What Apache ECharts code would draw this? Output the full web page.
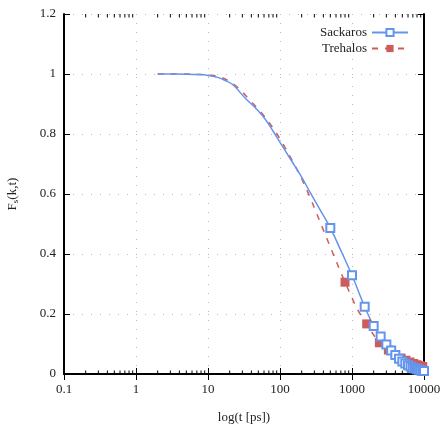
<!DOCTYPE html>
<html lang="en">
<head>
    <meta charset="UTF-8">
    <title>Fs(k,t)</title>
    <script src="https://cdn.jsdelivr.net/npm/echarts@6/dist/echarts.min.js"></script>
    <style>
        html, body { margin: 0; padding: 0; background: #fff; }
        #main { width: 441px; height: 425px; }
    </style>
</head>
<body>
    <div id="main"></div>
    <script>
        // Sackaros: smooth part + markers every 500 ps
        var sacT = [2, 5, 8, 10, 14, 17, 22, 33, 45, 62, 80, 100, 145, 200, 261, 359,
            500, 681, 1000, 1500, 2000, 2500, 3000, 3500, 4000, 4500, 5000,
            5500, 6000, 6500, 7000, 7500, 8000, 8500, 9000, 9500, 10000];
        var sacF = [1.0, 0.9995, 0.998, 0.995, 0.988, 0.979, 0.965, 0.919, 0.888, 0.85, 0.81, 0.772, 0.71, 0.656, 0.606, 0.548,
            0.487, 0.418, 0.329, 0.224, 0.160, 0.125, 0.098, 0.078, 0.063, 0.051, 0.042,
            0.035, 0.029, 0.025, 0.021, 0.018, 0.016, 0.014, 0.012, 0.011, 0.010];
        var sacMarkT = [500, 1000, 1500, 2000, 2500, 3000, 3500, 4000, 4500, 5000,
            5500, 6000, 6500, 7000, 7500, 8000, 8500, 9000, 9500, 10000];

        // Trehalos: markers every 800 ps
        var treT = [2, 5, 8, 10, 15, 25, 38, 56, 81, 111, 153, 200, 262, 323, 410, 520, 690,
            800, 1000, 1200, 1600, 2400, 3200, 4000, 4800, 5600, 6400, 7200, 8000, 8800, 9600, 10000];
        var treF = [1.0, 1.0, 0.998, 0.997, 0.99, 0.958, 0.913, 0.869, 0.818, 0.765, 0.705, 0.651, 0.588, 0.535, 0.474, 0.413, 0.342,
            0.306, 0.254, 0.214, 0.167, 0.104, 0.080, 0.064, 0.053, 0.046, 0.040, 0.035, 0.031, 0.028, 0.025, 0.024];
        var treMarkT = [800, 1600, 2400, 3200, 4000, 4800, 5600, 6400, 7200, 8000, 8800, 9600];

        // gnuplot-style minor ticks on the log axis
        var minorT = [];
        [0.1, 1, 10, 100, 1000].forEach(function (d) {
            for (var k = 2; k <= 9; k++) minorT.push(+(d * k).toPrecision(3));
        });

        var serif = '"Liberation Serif", "DejaVu Serif", serif';

        function buildData(ts, fs, marks) {
            return ts.map(function (t, i) {
                return { value: [t, fs[i]], symbol: marks.indexOf(t) >= 0 ? undefined : 'none' };
            });
        }

        var myChart = echarts.init(document.getElementById('main'));

        var option = {
            animation: false,
            grid: { left: 64, right: 17, top: 14, bottom: 51, outerBoundsMode: 'none', containLabel: false },
            legend: {
                orient: 'vertical',
                right: 27,
                top: 21,
                align: 'right',
                itemWidth: 36,
                itemHeight: 9,
                itemGap: 3,
                textStyle: { fontFamily: serif, fontSize: 13, color: '#222' },
                data: ['Sackaros', 'Trehalos']
            },
            xAxis: [
                {
                    type: 'log',
                    logBase: 10,
                    min: 0.1,
                    max: 10000,
                    name: 'log(t [ps])',
                    nameLocation: 'middle',
                    nameGap: 37,
                    nameTextStyle: { fontFamily: serif, fontSize: 13, color: '#222' },
                    axisLine: { lineStyle: { color: '#000', width: 2 } },
                    axisTick: { inside: true, length: 6, lineStyle: { color: '#000' } },
                    axisLabel: {
                        fontFamily: serif, fontSize: 13, color: '#222', margin: 9,
                        formatter: function (v) { return String(+v.toPrecision(6)); }
                    },
                    splitLine: { show: true, lineStyle: { color: '#bbb', type: [1, 8] } }
                },
                {
                    type: 'log',
                    logBase: 10,
                    min: 0.1,
                    max: 10000,
                    position: 'top',
                    axisLine: { lineStyle: { color: '#000', width: 2 } },
                    axisTick: { inside: true, length: 6, lineStyle: { color: '#000' } },
                    axisLabel: { show: false },
                    splitLine: { show: false }
                }
            ],
            yAxis: [
                {
                    type: 'value',
                    min: 0,
                    max: 1.2,
                    interval: 0.2,
                    name: 'F{sub|s}(k,t)',
                    nameLocation: 'middle',
                    nameGap: 44,
                    nameTextStyle: {
                        fontFamily: serif, fontSize: 13, color: '#222',
                        rich: { sub: { fontFamily: serif, fontSize: 9, color: '#222', verticalAlign: 'bottom', padding: [6, 0, 0, 0] } }
                    },
                    axisLine: { lineStyle: { color: '#000', width: 2 } },
                    axisTick: { inside: true, length: 6, lineStyle: { color: '#000' } },
                    axisLabel: { fontFamily: serif, fontSize: 13, color: '#222', margin: 8 },
                    splitLine: { show: true, lineStyle: { color: '#bbb', type: [1, 8] } }
                },
                {
                    type: 'value',
                    min: 0,
                    max: 1.2,
                    interval: 0.2,
                    position: 'right',
                    axisLine: { show: true, lineStyle: { color: '#000', width: 2 } },
                    axisTick: { show: true, inside: true, length: 6, lineStyle: { color: '#000' } },
                    axisLabel: { show: false },
                    splitLine: { show: false }
                }
            ],
            series: [
                {
                    name: 'minor',
                    type: 'custom',
                    silent: true,
                    clip: false,
                    z: 1,
                    renderItem: function (params, api) {
                        var b = api.coord([api.value(0), 0]);
                        var t = api.coord([api.value(0), 1.2]);
                        return {
                            type: 'group',
                            children: [
                                { type: 'line', shape: { x1: b[0], y1: b[1], x2: b[0], y2: b[1] - 3.5 }, style: { stroke: '#000', lineWidth: 1 } },
                                { type: 'line', shape: { x1: t[0], y1: t[1], x2: t[0], y2: t[1] + 3.5 }, style: { stroke: '#000', lineWidth: 1 } }
                            ]
                        };
                    },
                    data: minorT.map(function (t) { return [t, 0]; })
                },
                {
                    name: 'Trehalos',
                    type: 'line',
                    smooth: 0.35,
                    symbol: 'rect',
                    symbolSize: 9,
                    showAllSymbol: true,
                    itemStyle: { color: '#cd5c5c' },
                    lineStyle: { color: '#cd5c5c', width: 1.5, type: [6, 7] },
                    data: buildData(treT, treF, treMarkT)
                },
                {
                    name: 'Sackaros',
                    type: 'line',
                    smooth: 0.35,
                    symbol: 'emptyRect',
                    symbolSize: 8,
                    showAllSymbol: true,
                    itemStyle: { color: '#6495ed', borderWidth: 1.5 },
                    lineStyle: { color: '#6495ed', width: 1.5 },
                    data: buildData(sacT, sacF, sacMarkT)
                }
            ]
        };

        myChart.setOption(option);
    </script>
</body>
</html>
